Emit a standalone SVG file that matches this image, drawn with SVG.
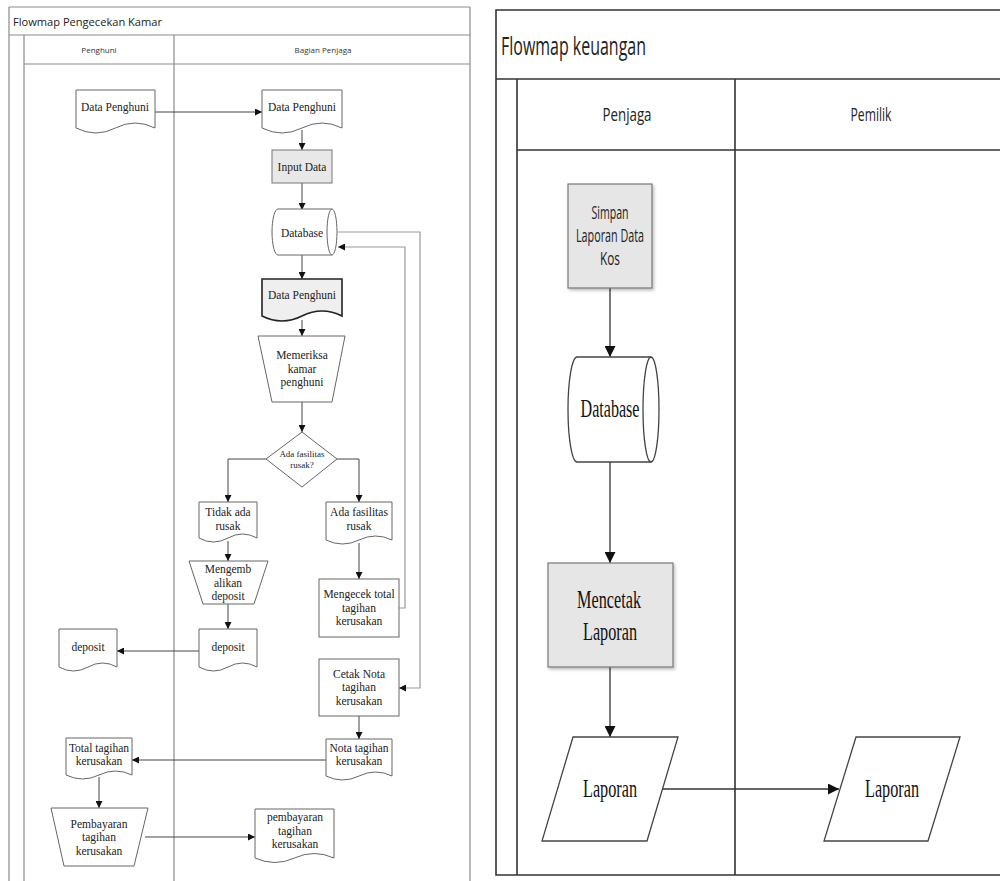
<svg xmlns="http://www.w3.org/2000/svg" width="1000" height="881" viewBox="0 0 1000 881">
<defs>
<marker id="ah" viewBox="0 0 10 10" refX="10" refY="5" markerWidth="7" markerHeight="7" markerUnits="userSpaceOnUse" orient="auto"><path d="M0,0 L10,5 L0,10 Z" fill="#111"/></marker>
<marker id="ahL" viewBox="0 0 10 10" refX="10" refY="5" markerWidth="11" markerHeight="11" markerUnits="userSpaceOnUse" orient="auto"><path d="M0,0 L10,5 L0,10 Z" fill="#111"/></marker>
<filter id="sh" x="-10%" y="-10%" width="130%" height="130%"><feDropShadow dx="1.5" dy="2" stdDeviation="1.5" flood-color="#000" flood-opacity="0.25"/></filter>
</defs>
<style>
.fr{fill:none;stroke:#8a8a8a;stroke-width:1.2}
.fr2{fill:none;stroke:#333;stroke-width:1.6}
.nd{fill:#fff;stroke:#666;stroke-width:1}
.gy{fill:#e8e8e8;stroke:#777;stroke-width:1}
.dk{fill:#efefef;stroke:#222;stroke-width:1.6}
.nd2{fill:#fff;stroke:#444;stroke-width:1.3}
.gy2{fill:#e6e6e6;stroke:#777;stroke-width:1.2}
.c{fill:none;stroke:#444;stroke-width:1}
.cl{fill:none;stroke:#999;stroke-width:1.2}
.c2{fill:none;stroke:#333;stroke-width:1.3}
.t{font-family:"Liberation Serif",serif;font-size:11.5px;fill:#222;text-anchor:middle}
.ts{font-family:"Liberation Serif",serif;font-size:9px;fill:#222;text-anchor:middle}
.hd{font-family:"Open Sans","Liberation Sans",sans-serif;font-size:8px;fill:#333;text-anchor:middle}
.ttl{font-family:"Open Sans","Liberation Sans",sans-serif;font-size:11.5px;fill:#222}
.t2{font-family:"Liberation Serif",serif;font-size:26px;fill:#111;text-anchor:middle}
.s2{font-family:"Open Sans","Liberation Sans",sans-serif;font-size:18px;fill:#222;text-anchor:middle}
.h2{font-family:"Open Sans","Liberation Sans",sans-serif;font-size:19px;fill:#222;text-anchor:middle}
</style>

<!-- LEFT DIAGRAM FRAME -->
<g id="left-frame">
<line class="fr" x1="9" y1="7" x2="470" y2="7"/>
<line class="fr" x1="9" y1="7" x2="9" y2="881"/>
<line class="fr" x1="470" y1="7" x2="470" y2="881"/>
<line class="fr" x1="9" y1="35" x2="470" y2="35"/>
<line class="fr" x1="24" y1="35" x2="24" y2="881"/>
<line class="fr" x1="24" y1="64" x2="470" y2="64"/>
<line class="fr" x1="174" y1="35" x2="174" y2="881"/>
<text class="ttl" x="13" y="26" textLength="149" lengthAdjust="spacingAndGlyphs">Flowmap Pengecekan Kamar</text>
<text class="hd" x="99" y="53">Penghuni</text>
<text class="hd" x="323" y="53">Bagian Penjaga</text>
</g>

<!-- LEFT CONNECTORS -->
<g id="left-connectors">
<line class="c" x1="155" y1="112" x2="262" y2="112" marker-end="url(#ah)"/>
<line class="c" x1="302" y1="130" x2="302" y2="150" marker-end="url(#ah)"/>
<line class="c" x1="302" y1="183" x2="302" y2="210" marker-end="url(#ah)"/>
<line class="c" x1="302" y1="255" x2="302" y2="279" marker-end="url(#ah)"/>
<line class="c" x1="302" y1="320" x2="302" y2="336" marker-end="url(#ah)"/>
<line class="c" x1="302" y1="402" x2="302" y2="432" marker-end="url(#ah)"/>
<polyline class="c" points="266,459 228,459 228,502" marker-end="url(#ah)"/>
<polyline class="c" points="337,459 359,459 359,502" marker-end="url(#ah)"/>
<line class="c" x1="228" y1="541" x2="228" y2="561" marker-end="url(#ah)"/>
<line class="c" x1="359" y1="543" x2="359" y2="579" marker-end="url(#ah)"/>
<line class="c" x1="228" y1="604" x2="228" y2="629" marker-end="url(#ah)"/>
<line class="c" x1="199" y1="651" x2="117" y2="651" marker-end="url(#ah)"/>
<polyline class="cl" points="399,608 405,608 405,247 338,247" marker-end="url(#ah)"/>
<polyline class="cl" points="338,232 420,232 420,688 399,688" marker-end="url(#ah)"/>
<line class="c" x1="359" y1="716" x2="359" y2="739" marker-end="url(#ah)"/>
<line class="c" x1="326" y1="760" x2="132" y2="760" marker-end="url(#ah)"/>
<line class="c" x1="99" y1="777" x2="99" y2="808" marker-end="url(#ah)"/>
<line class="c" x1="145" y1="837" x2="255" y2="837" marker-end="url(#ah)"/>
</g>

<!-- LEFT NODES -->
<g id="doc-penghuni">
<path class="nd" d="M76,90 H155 V128 Q135,118 115.5,128 T76,128 Z"/>
<text class="t" x="115" y="111">Data Penghuni</text>
</g>
<g id="doc-penjaga">
<path class="nd" d="M262,90 H342 V128 Q322,118 302,128 T262,128 Z"/>
<text class="t" x="302" y="111">Data Penghuni</text>
</g>
<g id="input-data">
<rect class="gy" x="272" y="150" width="60" height="33"/>
<text class="t" x="302" y="171">Input Data</text>
</g>
<g id="database-left">
<path class="nd" d="M278,209 H332 A5,23 0 0 1 332,255 H278 A6,23 0 0 1 278,209 Z"/>
<path class="nd" d="M332,209 A5,23 0 0 0 332,255" fill="none"/>
<text class="t" x="302" y="237">Database</text>
</g>
<g id="data-penghuni-2">
<path class="dk" d="M262,279 H342 V316 Q322,306 302,316 T262,316 Z"/>
<text class="t" x="302" y="299">Data Penghuni</text>
</g>
<g id="memeriksa">
<path class="nd" d="M258,336 H345 L332,402 H272 Z"/>
<text class="t" x="302" y="359">Memeriksa</text>
<text class="t" x="302" y="373">kamar</text>
<text class="t" x="302" y="386">penghuni</text>
</g>
<g id="decision">
<path class="nd" d="M302,432 L337,459 L302,487 L266,459 Z"/>
<text class="ts" x="302" y="457">Ada fasilitas</text>
<text class="ts" x="302" y="468">rusak?</text>
</g>
<g id="tidak-ada">
<path class="nd" d="M199,502 H257 V538 Q242.5,530 228,538 T199,538 Z"/>
<text class="t" x="228" y="516">Tidak ada</text>
<text class="t" x="228" y="530">rusak</text>
</g>
<g id="ada-fasilitas">
<path class="nd" d="M326,502 H392 V540 Q375.5,532 359,540 T326,540 Z"/>
<text class="t" x="359" y="516">Ada fasilitas</text>
<text class="t" x="359" y="530">rusak</text>
</g>
<g id="mengembalikan">
<path class="nd" d="M189,561 H268 L254,604 H203 Z"/>
<text class="t" x="228" y="573">Mengemb</text>
<text class="t" x="228" y="587">alikan</text>
<text class="t" x="228" y="600">deposit</text>
</g>
<g id="mengecek">
<rect class="nd" x="319" y="579" width="80" height="58"/>
<text class="t" x="359" y="598">Mengecek total</text>
<text class="t" x="359" y="612">tagihan</text>
<text class="t" x="359" y="625">kerusakan</text>
</g>
<g id="deposit-penjaga">
<path class="nd" d="M199,629 H257 V667 Q242.5,659 228,667 T199,667 Z"/>
<text class="t" x="228" y="651">deposit</text>
</g>
<g id="deposit-penghuni">
<path class="nd" d="M59,629 H117 V667 Q102.5,659 88,667 T59,667 Z"/>
<text class="t" x="88" y="651">deposit</text>
</g>
<g id="cetak-nota">
<rect class="nd" x="319" y="659" width="80" height="57"/>
<text class="t" x="359" y="678">Cetak Nota</text>
<text class="t" x="359" y="691">tagihan</text>
<text class="t" x="359" y="705">kerusakan</text>
</g>
<g id="nota-tagihan">
<path class="nd" d="M326,739 H392 V776 Q375.5,768 359,776 T326,776 Z"/>
<text class="t" x="359" y="752">Nota tagihan</text>
<text class="t" x="359" y="765">kerusakan</text>
</g>
<g id="total-tagihan">
<path class="nd" d="M66,738 H132 V775 Q115.5,767 99,775 T66,775 Z"/>
<text class="t" x="99" y="752">Total tagihan</text>
<text class="t" x="99" y="765">kerusakan</text>
</g>
<g id="pembayaran-proc">
<path class="nd" d="M51,808 H148 L134,866 H64 Z"/>
<text class="t" x="99" y="828">Pembayaran</text>
<text class="t" x="99" y="841">tagihan</text>
<text class="t" x="99" y="855">kerusakan</text>
</g>
<g id="pembayaran-doc">
<path class="nd" d="M255,809 H334 V858 Q314,849 294.5,858 T255,858 Z"/>
<text class="t" x="295" y="821">pembayaran</text>
<text class="t" x="295" y="835">tagihan</text>
<text class="t" x="295" y="848">kerusakan</text>
</g>

<!-- RIGHT DIAGRAM FRAME -->
<g id="right-frame">
<polyline class="fr2" points="1001,10 496,10 496,875 1001,875"/>
<line class="fr2" x1="496" y1="79" x2="1001" y2="79"/>
<line class="fr2" x1="517" y1="79" x2="517" y2="875"/>
<line class="fr2" x1="517" y1="150" x2="1001" y2="150"/>
<line class="fr2" x1="735" y1="79" x2="735" y2="875"/>
<text class="ttl" x="501" y="55" style="font-size:26px" textLength="145" lengthAdjust="spacingAndGlyphs">Flowmap keuangan</text>
<text class="h2" x="627" y="121" textLength="49" lengthAdjust="spacingAndGlyphs">Penjaga</text>
<text class="h2" x="871" y="121" textLength="41" lengthAdjust="spacingAndGlyphs">Pemilik</text>
</g>

<!-- RIGHT CONNECTORS -->
<g id="right-connectors">
<line class="c2" x1="610" y1="288" x2="610" y2="357" marker-end="url(#ahL)"/>
<line class="c2" x1="610" y1="462" x2="610" y2="563" marker-end="url(#ahL)"/>
<line class="c2" x1="610" y1="667" x2="610" y2="737" marker-end="url(#ahL)"/>
<line class="c2" x1="663" y1="789" x2="839" y2="789" marker-end="url(#ahL)"/>
</g>

<!-- RIGHT NODES -->
<g id="simpan-laporan">
<rect class="gy2" x="568" y="184" width="84" height="104" filter="url(#sh)"/>
<text class="s2" x="610" y="219" textLength="37" lengthAdjust="spacingAndGlyphs">Simpan</text>
<text class="s2" x="610" y="242" textLength="68" lengthAdjust="spacingAndGlyphs">Laporan Data</text>
<text class="s2" x="610" y="265" textLength="20" lengthAdjust="spacingAndGlyphs">Kos</text>
</g>
<g id="database-right">
<path class="nd2" d="M577,357 H651 A8,52.5 0 0 1 651,462 H577 A9,52.5 0 0 1 577,357 Z"/>
<path class="nd2" d="M651,357 A8,52.5 0 0 0 651,462" fill="none"/>
<text class="t2" x="610" y="417" textLength="59" lengthAdjust="spacingAndGlyphs">Database</text>
</g>
<g id="mencetak-laporan">
<rect class="gy2" x="548" y="563" width="125" height="104" filter="url(#sh)"/>
<text class="t2" x="609" y="608" textLength="64" lengthAdjust="spacingAndGlyphs">Mencetak</text>
<text class="t2" x="610" y="640" textLength="54" lengthAdjust="spacingAndGlyphs">Laporan</text>
</g>
<g id="laporan-penjaga">
<path class="nd2" d="M573,737 H678 L647,841 H542 Z"/>
<text class="t2" x="610" y="797" textLength="54" lengthAdjust="spacingAndGlyphs">Laporan</text>
</g>
<g id="laporan-pemilik">
<path class="nd2" d="M856,737 H960 L928,841 H824 Z"/>
<text class="t2" x="892" y="797" textLength="54" lengthAdjust="spacingAndGlyphs">Laporan</text>
</g>
</svg>
